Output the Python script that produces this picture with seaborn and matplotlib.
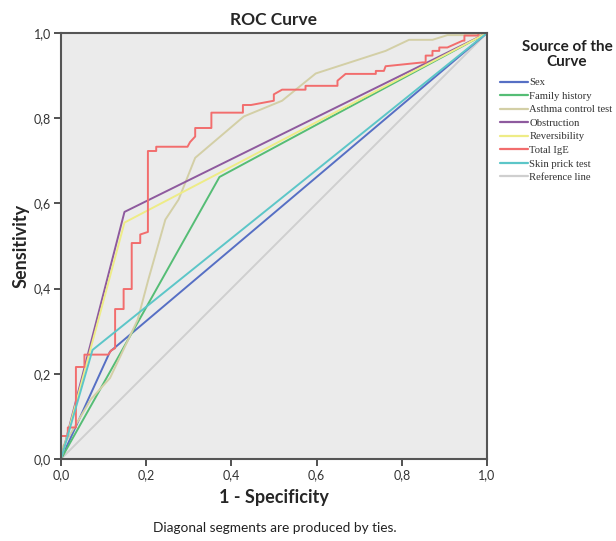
import numpy as np
import pandas as pd
import matplotlib
matplotlib.use("Agg")
import matplotlib.pyplot as plt
import seaborn as sns
from matplotlib.lines import Line2D

# ---- data ----
sources = ["Sex", "Family history", "Asthma control test", "Obstruction",
           "Reversibility", "Total IgE", "Skin prick test", "Reference line"]

sex_fpr = [0.0, 0.115, 1.0]
sex_tpr = [0.0, 0.252, 1.0]

family_fpr = [0.0, 0.372, 1.0]
family_tpr = [0.0, 0.662, 1.0]

act_fpr = [0.0, 0.005, 0.07, 0.115, 0.18, 0.205, 0.245, 0.276, 0.315, 0.429,
           0.519, 0.598, 0.762, 0.817, 0.872, 0.907, 0.98, 1.0]
act_tpr = [0.0, 0.03, 0.14, 0.19, 0.327, 0.421, 0.562, 0.609, 0.707, 0.804,
           0.841, 0.905, 0.958, 0.984, 0.984, 0.995, 0.995, 1.0]

obstruction_fpr = [0.0, 0.149, 1.0]
obstruction_tpr = [0.0, 0.580, 1.0]

reversibility_fpr = [0.0, 0.149, 1.0]
reversibility_tpr = [0.0, 0.555, 1.0]

ige_fpr = [0.0, 0.0, 0.016, 0.016, 0.035, 0.035, 0.055, 0.055, 0.111, 0.118,
           0.127, 0.127, 0.147, 0.147, 0.166, 0.166, 0.186, 0.186, 0.204, 0.204,
           0.2235, 0.2235, 0.297, 0.303, 0.315, 0.315, 0.353, 0.353, 0.427, 0.427,
           0.446, 0.4996, 0.4996, 0.519, 0.574, 0.574, 0.649, 0.649, 0.668, 0.739,
           0.739, 0.758, 0.762, 0.849, 0.856, 0.856, 0.872, 0.872, 0.888, 0.888,
           0.907, 0.943, 0.947, 0.947, 0.978, 0.982, 1.0]
ige_tpr = [0.0, 0.054, 0.054, 0.074, 0.074, 0.216, 0.216, 0.245, 0.245, 0.255,
           0.26, 0.352, 0.352, 0.399, 0.399, 0.507, 0.507, 0.527, 0.533, 0.723,
           0.723, 0.733, 0.733, 0.744, 0.757, 0.777, 0.777, 0.813, 0.813, 0.831,
           0.831, 0.841, 0.856, 0.867, 0.867, 0.876, 0.876, 0.888, 0.904, 0.904,
           0.911, 0.911, 0.922, 0.931, 0.931, 0.947, 0.947, 0.958, 0.958, 0.966,
           0.966, 0.982, 0.982, 0.994, 0.994, 1.0, 1.0]

skin_fpr = [0.0, 0.074, 1.0]
skin_tpr = [0.0, 0.256, 1.0]

ref_fpr = [0.0, 1.0]
ref_tpr = [0.0, 1.0]

colors = ["#566fc4", "#55bd75", "#d3cfa6", "#8e5a9e", "#eeec86",
          "#f26d6d", "#5cc6c8", "#cfcfcf"]

tick_vals = [0.0, 0.2, 0.4, 0.6, 0.8, 1.0]
tick_labels = ["0,0", "0,2", "0,4", "0,6", "0,8", "1,0"]

# ---- build long table ----
series = [(sex_fpr, sex_tpr), (family_fpr, family_tpr), (act_fpr, act_tpr),
          (obstruction_fpr, obstruction_tpr), (reversibility_fpr, reversibility_tpr),
          (ige_fpr, ige_tpr), (skin_fpr, skin_tpr), (ref_fpr, ref_tpr)]
rows = []
for name, (fx, fy) in zip(sources, series):
    for i, (a, b) in enumerate(zip(fx, fy)):
        rows.append({"fpr": a, "tpr": b, "source": name, "order": i})
df = pd.DataFrame(rows)

sns.set_theme(style="white")
plt.rcParams["font.family"] = ["Lato", "DejaVu Sans"]

fig = plt.figure(figsize=(6.16, 5.41), dpi=100)
ax = fig.add_axes([61 / 616, 1 - 459 / 541, 426 / 616, 426 / 541])
ax.set_facecolor("#ebebeb")

palette = dict(zip(sources, colors))
draw_order = ["Reference line"] + [s for s in sources if s != "Reference line"]
for name in draw_order:
    sub = df[df["source"] == name]
    sns.lineplot(data=sub, x="fpr", y="tpr", sort=False, estimator=None,
                 color=palette[name], linewidth=1.4, ax=ax, legend=False)

ax.set_xlim(0, 1)
ax.set_ylim(0, 1)
ax.set_xticks(tick_vals)
ax.set_xticklabels(tick_labels)
ax.set_yticks(tick_vals)
ax.set_yticklabels(tick_labels)
ax.tick_params(axis="both", which="both", direction="out", length=5, width=1.2,
               color="#333333", labelsize=9, labelcolor="#333333",
               bottom=True, left=True, top=False, right=False, pad=2)
for sp in ax.spines.values():
    sp.set_visible(True)
    sp.set_color("#555555")
    sp.set_linewidth(1.5)

ax.set_xlabel("1 - Specificity", fontsize=13, fontweight="bold", labelpad=6)
ax.set_ylabel("Sensitivity", fontsize=13, fontweight="bold", labelpad=3)
ax.set_title("ROC Curve", fontsize=12.5, fontweight="bold", pad=6)

fig.text(275 / 616, 1 - 528 / 541, "Diagonal segments are produced by ties.",
         ha="center", va="center", fontsize=9.8, color="#222222")

# legend title as separate centred text
fig.text(567 / 616, 1 - 47 / 541, "Source of the", ha="center", va="center",
         fontsize=11, fontweight="bold", color="#222222")
fig.text(567 / 616, 1 - 62 / 541, "Curve", ha="center", va="center",
         fontsize=11, fontweight="bold", color="#222222")

handles = [Line2D([0], [0], color=c, linewidth=1.6) for c in colors]
leg = fig.legend(handles, sources, loc="upper left",
                 bbox_to_anchor=(495.5 / 616, 1 - 73.5 / 541),
                 frameon=False, handlelength=2.6, handletextpad=0.15,
                 labelspacing=0.38, borderaxespad=0,
                 prop={"family": "Liberation Serif", "size": 7.7})
for t in leg.get_texts():
    t.set_color("#333333")

fig.savefig("out.png", dpi=100)
